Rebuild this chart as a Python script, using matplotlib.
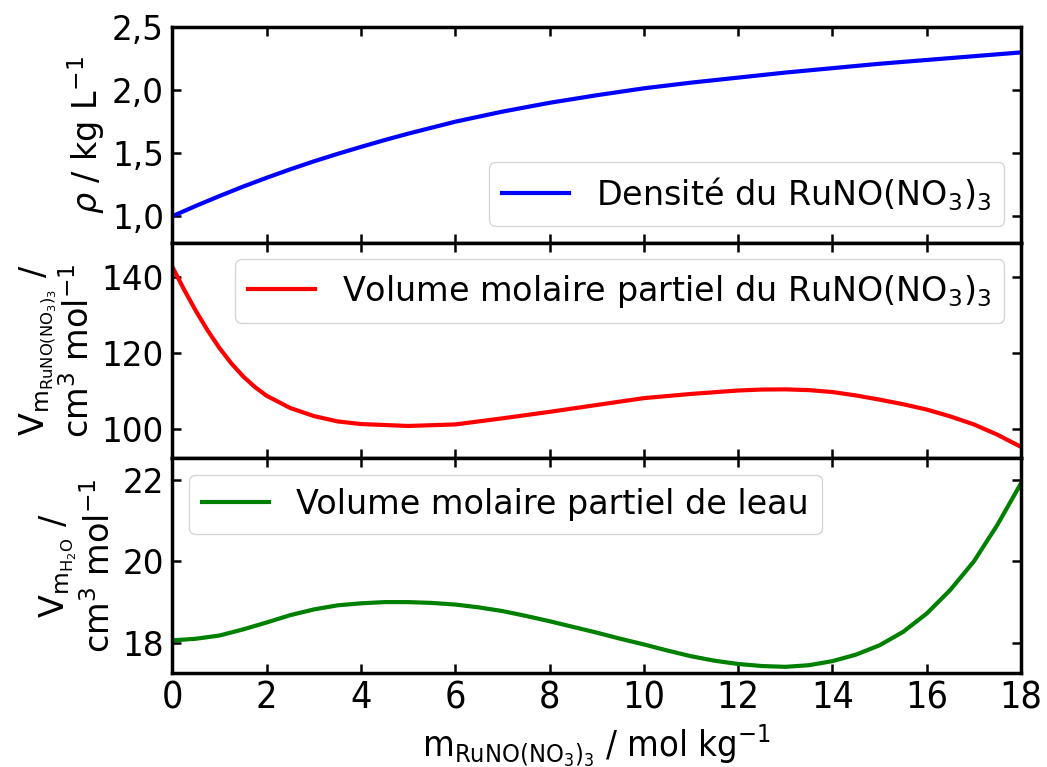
import matplotlib
matplotlib.use("Agg")
import matplotlib.pyplot as plt

# Data
x_rho = [0, 0.5, 1, 1.5, 2, 2.5, 3, 3.5, 4, 4.5, 5, 6, 7, 8, 9, 10, 11, 12,
         13, 14, 15, 16, 17, 18]
rho = [1.00, 1.082, 1.16, 1.235, 1.305, 1.372, 1.435, 1.494, 1.55, 1.604,
       1.655, 1.75, 1.83, 1.90, 1.96, 2.015, 2.06, 2.10, 2.14, 2.175, 2.21,
       2.24, 2.27, 2.30]

x_vru = [0, 0.25, 0.5, 0.75, 1, 1.25, 1.5, 1.75, 2, 2.5, 3, 3.5, 4, 5, 6, 7,
         8, 9, 10, 11, 12, 12.5, 13, 13.5, 14, 14.5, 15, 15.5, 16, 16.5, 17,
         17.5, 18]
v_ru = [142.6, 136.6, 131.0, 125.9, 121.3, 117.3, 113.9, 111.1, 108.8, 105.6,
        103.5, 102.1, 101.4, 100.9, 101.3, 102.9, 104.6, 106.4, 108.2, 109.3,
        110.2, 110.45, 110.5, 110.3, 109.8, 108.9, 107.8, 106.6, 105.2, 103.4,
        101.3, 98.6, 95.4]

x_vw = [0, 0.5, 1, 1.5, 2, 2.5, 3, 3.5, 4, 4.5, 5, 5.5, 6, 6.5, 7, 7.5, 8,
        8.5, 9, 9.5, 10, 10.5, 11, 11.5, 12, 12.5, 13, 13.5, 14, 14.5, 15,
        15.5, 16, 16.5, 17, 17.5, 18]
v_w = [18.06, 18.10, 18.18, 18.33, 18.50, 18.68, 18.82, 18.92, 18.97, 19.00,
       19.00, 18.98, 18.94, 18.87, 18.78, 18.66, 18.53, 18.39, 18.25, 18.10,
       17.96, 17.81, 17.67, 17.56, 17.48, 17.43, 17.41, 17.45, 17.55, 17.71,
       17.94, 18.27, 18.72, 19.30, 20.00, 20.90, 21.92]

xticks = [0, 2, 4, 6, 8, 10, 12, 14, 16, 18]
rho_ticks = [1.0, 1.5, 2.0, 2.5]
rho_ticklabels = ["1,0", "1,5", "2,0", "2,5"]
vru_ticks = [100, 120, 140]
vw_ticks = [18, 20, 22]

plt.rcParams['font.family'] = ['DejaVu Sans']
plt.rcParams['mathtext.default'] = 'regular'

fig = plt.figure(figsize=(10.47, 7.67), dpi=100)
L, R = 0.1647, 0.9752
h = 0.2808
bots = [0.6837, 0.4029, 0.1221]
axes = [fig.add_axes([L, b, R - L, h]) for b in bots]

TICK = 23.5
LEG = 24
YLAB = 24
for ax in axes:
    for s in ax.spines.values():
        s.set_linewidth(2.5)
    ax.tick_params(direction='in', length=6.5, width=1.8, top=True, right=True,
                   labelsize=TICK, pad=6)
    ax.set_xlim(0, 18)
    ax.set_xticks(xticks)

ax1, ax2, ax3 = axes
ax1.plot(x_rho, rho, color='blue', lw=3, label=r'Densité du RuNO(NO$_3$)$_3$')
ax1.set_ylim(0.79, 2.5)
ax1.set_yticks(rho_ticks)
ax1.set_yticklabels(rho_ticklabels)
ax1.set_ylabel(r'$\mathit{\rho}$ / kg L$^{-1}$', fontsize=YLAB)
ax1.legend(loc='lower right', fontsize=LEG, handlelength=2.0)
ax1.tick_params(labelbottom=False)

ax2.plot(x_vru, v_ru, color='red', lw=3,
         label=r'Volume molaire partiel du RuNO(NO$_3$)$_3$')
ax2.set_ylim(92.5, 149)
ax2.set_yticks(vru_ticks)
ax2.set_ylabel('V$_{m_{RuNO(NO_3)_3}}$ /\ncm$^3$ mol$^{-1}$', fontsize=YLAB,
               linespacing=1.1)
ax2.legend(loc='upper right', fontsize=LEG, handlelength=2.0)
ax2.tick_params(labelbottom=False)

ax3.plot(x_vw, v_w, color='green', lw=3, label='Volume molaire partiel de leau')
ax3.set_ylim(17.25, 22.54)
ax3.set_yticks(vw_ticks)
ax3.set_ylabel('V$_{m_{H_2O}}$ /\ncm$^3$ mol$^{-1}$', fontsize=YLAB,
               linespacing=1.1)
ax3.legend(loc='upper left', fontsize=LEG, handlelength=2.0)
ax3.tick_params(axis='x', labelsize=27, pad=5)
for lab in ax3.get_xticklabels():
    lab.set_fontstretch('condensed')
ax3.set_xlabel('m$_{RuNO(NO_3)_3}$ / mol kg$^{-1}$', fontsize=26,
               fontstretch='condensed')
ax3.xaxis.set_label_coords(0.5, -0.225)

fig.savefig('out.png', dpi=100)
